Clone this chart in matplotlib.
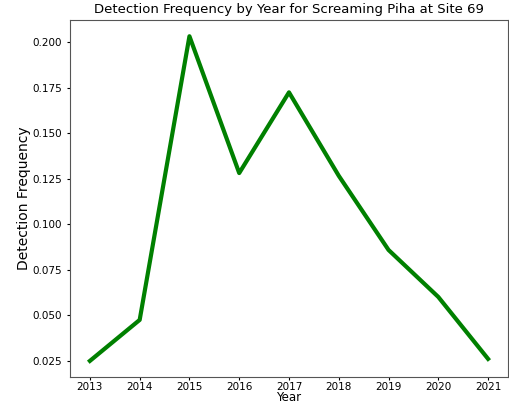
import matplotlib
matplotlib.use("Agg")
import matplotlib.pyplot as plt

years = [2013, 2014, 2015, 2016, 2017, 2018, 2019, 2020, 2021]
detection_freq = [0.025, 0.0475, 0.2032, 0.1281, 0.1724, 0.1266, 0.0859, 0.0601, 0.0261]

fig = plt.figure(figsize=(5.09, 4.04), dpi=100)
ax = fig.add_axes([0.1375, 0.0665, 0.8605, 0.884])
ax.plot(years, detection_freq, color="green", linewidth=3)
ax.set_title("Detection Frequency by Year for Screaming Piha at Site 69", fontsize=9.5, pad=5)
ax.set_xlabel("Year", fontsize=8.5)
ax.xaxis.set_label_coords(0.5, -0.039)
ax.set_ylabel("Detection Frequency", fontsize=10, labelpad=1)
ax.set_xticks(years)
ax.tick_params(labelsize=7.5, length=2.5)
ax.tick_params(axis="x", pad=1)
for s in ax.spines.values():
    s.set_color("#555555")
fig.savefig("out.png", dpi=100)
